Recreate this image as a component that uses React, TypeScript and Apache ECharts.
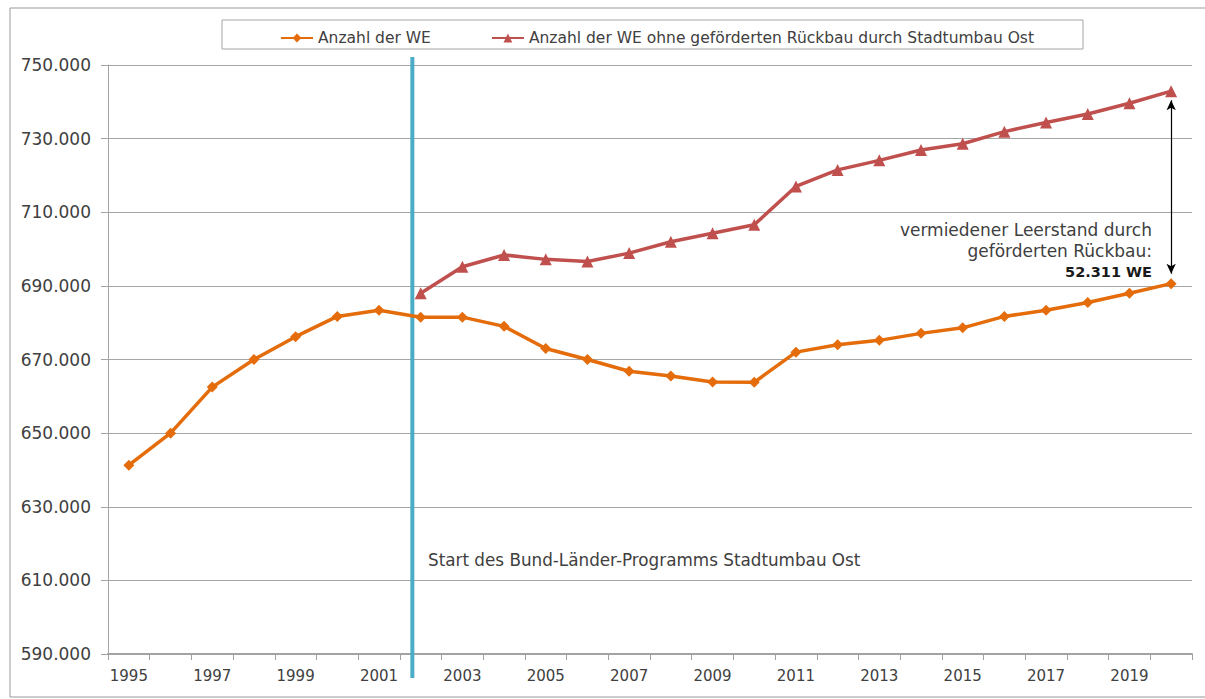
import React, { useEffect, useRef } from "react";
import * as echarts from "echarts";

const years: string[] = [
  "1995", "1996", "1997", "1998", "1999", "2000", "2001", "2002", "2003", "2004",
  "2005", "2006", "2007", "2008", "2009", "2010", "2011", "2012", "2013", "2014",
  "2015", "2016", "2017", "2018", "2019", "2020",
];

const anzahlWE: number[] = [
  641300, 650000, 662500, 670000, 676200, 681700, 683400, 681500, 681500, 679000,
  673000, 670000, 666800, 665500, 663900, 663800, 672000, 674000, 675200, 677100,
  678600, 681700, 683400, 685500, 688000, 690600,
];

const anzahlOhneRueckbau: (number | null)[] = [
  null, null, null, null, null, null, null, 688000, 695200, 698400,
  697200, 696600, 698900, 702000, 704300, 706600, 717000, 721500, 724100, 726900,
  728600, 731900, 734400, 736700, 739600, 742900,
];

const seriesNames: string[] = [
  "Anzahl der WE",
  "Anzahl der WE ohne geförderten Rückbau durch Stadtumbau Ost",
];

const programStartAfter = "2001";
const programStartFraction = 0.8;
const programLabel = "Start des Bund-Länder-Programms Stadtumbau Ost";
const annotationLines: string[] = ["vermiedener Leerstand durch", "geförderten Rückbau:"];
const annotationValue = "52.311 WE";

const Y_MIN = 590000;
const Y_MAX = 750000;

const FONT = "DejaVu Sans";
const TEXT = "#404040";

function fmt(v: number): string {
  const s = Math.round(v).toString();
  return s.replace(/\B(?=(\d{3})+(?!\d))/g, ".");
}

export default function App() {
  const ref = useRef<HTMLDivElement>(null);

  useEffect(() => {
    document.body.style.margin = "0";
    const chart = echarts.init(ref.current!, null, { renderer: "svg" });
    const startIdx = years.indexOf(programStartAfter);
    const option: any = {
      animation: false,
      backgroundColor: "#ffffff",
      textStyle: { fontFamily: FONT, color: TEXT },
      grid: { left: 108, right: 13, top: 65, bottom: 45, containLabel: false },
      legend: {
        data: seriesNames.map((n) => ({ name: n })),
        left: 275,
        top: 25,
        itemGap: 60,
        itemWidth: 32,
        itemHeight: 11,
        textStyle: { fontFamily: FONT, fontSize: 15.5, color: TEXT },
      },
      xAxis: {
        type: "category",
        data: years,
        boundaryGap: true,
        axisLine: { lineStyle: { color: "#A3A3A3", width: 2 } },
        axisTick: { show: true, interval: 0, length: 6, lineStyle: { color: "#A1A1A1", width: 1 } },
        axisLabel: { interval: 1, margin: 14, fontSize: 15, color: TEXT, fontFamily: FONT },
        splitLine: { show: false },
      },
      yAxis: {
        type: "value",
        min: Y_MIN,
        max: Y_MAX,
        interval: 20000,
        axisLine: { show: true, lineStyle: { color: "#A4A4A4", width: 1 } },
        axisTick: { show: true, length: 7, lineStyle: { color: "#A2A2A2" } },
        axisLabel: { formatter: (v: number) => fmt(v), margin: 17, fontSize: 17, color: TEXT, fontFamily: FONT },
        splitLine: { show: true, lineStyle: { color: "#A6A6A6", width: 1 } },
      },
      series: [
        {
          name: seriesNames[0],
          type: "line",
          data: anzahlWE,
          symbol: "diamond",
          symbolSize: 11,
          itemStyle: { color: "#E46C0A" },
          lineStyle: { color: "#E46C0A", width: 3.5 },
          z: 3,
        },
        {
          name: seriesNames[1],
          type: "line",
          data: anzahlOhneRueckbau,
          symbol: "triangle",
          symbolSize: 12,
          itemStyle: { color: "#C0504D" },
          lineStyle: { color: "#C0504D", width: 3.5 },
          z: 3,
          markLine: {
            silent: true,
            symbol: ["arrow", "arrow"],
            symbolSize: [7, 10],
            label: { show: false },
            lineStyle: { color: "#000000", width: 1.2, type: "solid" },
            data: [
              [
                { coord: [years[years.length - 1], 740400] },
                { coord: [years[years.length - 1], 693300] },
              ],
            ],
          },
        },
        {
          name: "programStart",
          type: "custom",
          silent: true,
          clip: false,
          z: 2,
          data: [[startIdx, Y_MIN]],
          renderItem: (params: any, api: any) => {
            const a = api.coord([startIdx, Y_MAX]);
            const b = api.coord([startIdx + 1, Y_MIN]);
            const x = a[0] + (b[0] - a[0]) * programStartFraction;
            return {
              type: "line",
              shape: { x1: x, y1: a[1] - 8, x2: x, y2: b[1] + 24 },
              style: { stroke: "#4BACC6", lineWidth: 4 },
            };
          },
        },
      ],
      graphic: [
        {
          type: "rect",
          shape: { x: 10, y: 8, width: 1260, height: 689 },
          style: { fill: "none", stroke: "#999999", lineWidth: 1 },
          silent: true,
        },
        {
          type: "rect",
          shape: { x: 222, y: 20, width: 861, height: 29 },
          style: { fill: "none", stroke: "#A6A6A6", lineWidth: 1 },
          silent: true,
        },
        {
          type: "text",
          x: 428,
          y: 560,
          style: { text: programLabel, fontFamily: FONT, fontSize: 16.8, fill: TEXT, verticalAlign: "middle" },
        },
        {
          type: "text",
          x: 1152,
          y: 230,
          style: { text: annotationLines[0], fontFamily: FONT, fontSize: 17, fill: TEXT, align: "right", verticalAlign: "middle" },
        },
        {
          type: "text",
          x: 1152,
          y: 251,
          style: { text: annotationLines[1], fontFamily: FONT, fontSize: 17, fill: TEXT, align: "right", verticalAlign: "middle" },
        },
        {
          type: "text",
          x: 1152,
          y: 272,
          style: { text: annotationValue, fontFamily: FONT, fontSize: 14.5, fontWeight: "bold", fill: "#1a1a1a", align: "right", verticalAlign: "middle" },
        },
      ],
    };
    chart.setOption(option);
    return () => chart.dispose();
  }, []);

  return <div ref={ref} style={{ width: 1205, height: 699 }} />;
}
